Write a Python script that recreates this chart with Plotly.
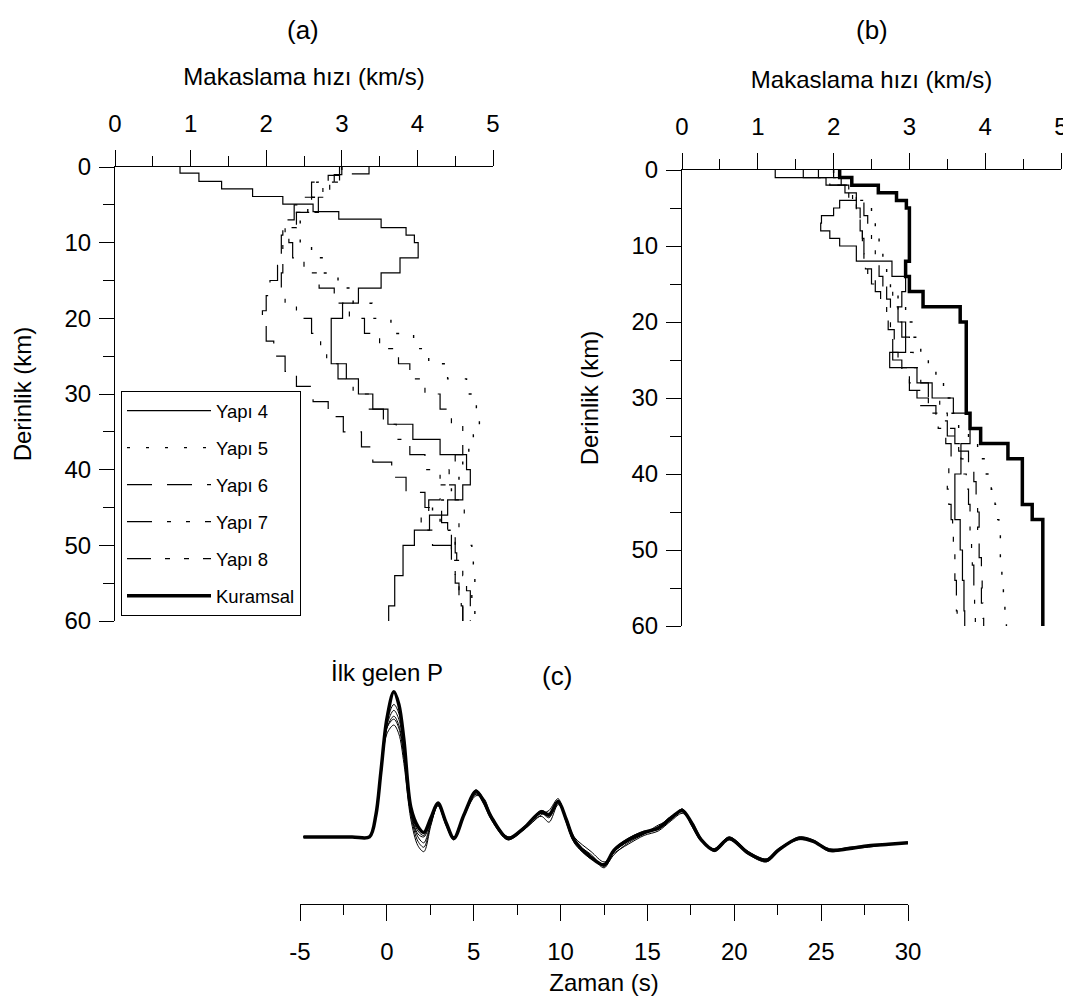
import plotly.graph_objects as go

FONT = "Liberation Sans, Arial, sans-serif"
# the page body has an 8 px default margin; the figure fills the rest of the 1071x1008 window
OFF = 8
W, H = 1071 - OFF, 1008 - OFF

# ---------------- data: panel (a) velocity profiles (depth top of layer, shear velocity)
a_y4_depth = [0, 0.8, 1.9, 2.9, 3.9, 4.9, 5.9, 6.9, 8, 9, 10, 12, 14, 16, 18, 20, 26, 28, 30, 32, 34, 36, 38, 40, 42, 44, 46, 48, 50, 54, 58, 60]
a_y4_vel = [0.86, 1.11, 1.41, 1.82, 2.22, 2.62, 2.96, 3.52, 3.85, 3.96, 4.01, 3.77, 3.52, 3.22, 3.01, 2.86, 3.06, 3.22, 3.41, 3.61, 3.94, 4.30, 4.65, 4.70, 4.60, 4.40, 4.16, 3.96, 3.81, 3.70, 3.62, 3.62]

a_y5_depth = [0, 2, 4, 6, 8, 10, 12, 14, 16, 18, 20, 22, 24, 26, 28, 30, 32, 34, 36, 38, 40, 42, 44, 46, 48, 50, 52, 54, 56, 58, 60]
a_y5_vel = [3.0, 2.67, 2.55, 2.45, 2.45, 2.6, 2.75, 2.95, 3.15, 3.4, 3.65, 3.95, 4.15, 4.4, 4.65, 4.78, 4.82, 4.74, 4.68, 4.6, 4.55, 4.45, 4.2, 4.3, 4.5, 4.72, 4.74, 4.76, 4.72, 4.76, 4.76]

a_y6_depth = [0, 1.1, 2, 4, 5, 7, 9, 11, 13, 15, 17, 19, 21, 23, 25, 27, 29, 31, 33, 35, 37, 39, 41, 43, 45, 47, 49, 51, 53, 55, 57, 59, 60]
a_y6_vel = [2.97, 2.82, 2.6, 2.45, 2.37, 2.22, 2.2, 2.2, 2.15, 2.05, 2.0, 1.95, 2.0, 2.1, 2.25, 2.4, 2.62, 2.82, 3.02, 3.26, 3.41, 3.66, 3.85, 4.1, 4.32, 4.4, 4.5, 4.52, 4.5, 4.55, 4.6, 4.6, 4.6]

a_y7_depth = [0, 1, 2, 4, 6, 8, 10, 12, 14, 16, 18, 20, 22, 24, 26, 28, 30, 32, 34, 36, 38, 40, 42, 44, 46, 48, 50, 52, 54, 56, 58, 60]
a_y7_vel = [3.0, 2.9, 2.75, 2.6, 2.4, 2.25, 2.22, 2.22, 2.2, 2.25, 2.4, 2.6, 2.72, 2.8, 2.95, 3.15, 3.35, 3.55, 3.72, 3.9, 4.1, 4.3, 4.5, 4.62, 4.55, 4.45, 4.45, 4.5, 4.55, 4.58, 4.6, 4.6]

a_y8_depth = [0, 0.9, 2, 4, 6, 8, 10, 12, 14, 16, 18, 20, 22, 24, 26, 28, 30, 32, 34, 36, 38, 40, 42, 44, 46, 48, 50, 52, 54, 56, 58, 60]
a_y8_vel = [3.36, 2.97, 2.84, 2.69, 2.4, 2.3, 2.35, 2.5, 2.7, 2.9, 3.1, 3.3, 3.5, 3.75, 3.9, 4.1, 4.3, 4.45, 4.6, 4.6, 4.5, 4.42, 4.3, 4.15, 4.05, 4.2, 4.45, 4.6, 4.65, 4.7, 4.7, 4.7]

# ---------------- data: panel (b) velocity profiles
b_y4_depth = [0, 1, 2, 3, 4, 5, 6, 7, 8, 9, 10, 12, 14, 16, 18, 20, 22, 24, 26, 28, 30, 32, 36, 40, 46, 50, 54, 58, 60]
b_y4_vel = [1.23, 1.9, 2.15, 2.3, 2.08, 2.0, 1.84, 1.83, 1.95, 2.08, 2.3, 2.77, 2.95, 2.9, 2.85, 2.9, 2.95, 2.74, 3.1, 3.3, 3.58, 3.8, 3.68, 3.6, 3.67, 3.7, 3.72, 3.73, 3.73]

b_y5_depth = [0, 2, 4, 6, 8, 10, 12, 14, 16, 18, 20, 22, 24, 26, 28, 30, 32, 34, 36, 38, 40, 42, 44, 46, 48, 50, 52, 54, 56, 58, 60]
b_y5_vel = [2.0, 2.35, 2.5, 2.55, 2.6, 2.65, 2.7, 2.75, 2.85, 2.95, 3.05, 3.15, 3.25, 3.35, 3.45, 3.55, 3.65, 3.78, 3.9, 4.0, 4.08, 4.13, 4.15, 4.18, 4.2, 4.2, 4.22, 4.24, 4.26, 4.28, 4.28]

b_y6_depth = [0, 1, 2, 3, 5, 7, 9, 11, 13, 15, 17, 19, 21, 23, 25, 27, 29, 31, 33, 35, 37, 39, 41, 43, 45, 47, 49, 51, 53, 55, 57, 59, 60]
b_y6_vel = [1.6, 1.95, 2.2, 2.3, 2.35, 2.38, 2.4, 2.42, 2.5, 2.7, 2.75, 2.72, 2.8, 2.78, 2.9, 3.0, 3.15, 3.35, 3.5, 3.65, 3.78, 3.85, 3.88, 3.9, 3.92, 3.9, 3.92, 3.95, 3.96, 3.95, 3.97, 3.98, 3.98]

b_y7_depth = [0, 1, 2, 4, 6, 8, 10, 12, 14, 16, 18, 20, 22, 24, 26, 28, 30, 32, 34, 36, 38, 40, 42, 44, 46, 48, 50, 52, 54, 56, 58, 60]
b_y7_vel = [1.8, 2.05, 2.25, 2.4, 2.45, 2.5, 2.55, 2.6, 2.65, 2.78, 2.85, 2.95, 3.0, 3.05, 3.15, 3.25, 3.4, 3.5, 3.6, 3.68, 3.72, 3.75, 3.78, 3.8, 3.8, 3.82, 3.83, 3.85, 3.85, 3.86, 3.87, 3.87]

b_y8_depth = [0, 1, 2, 4, 6, 8, 10, 12, 14, 16, 18, 20, 22, 24, 26, 28, 30, 32, 34, 36, 38, 40, 42, 44, 46, 48, 50, 52, 54, 56, 58, 60]
b_y8_vel = [2.0, 2.1, 2.2, 2.3, 2.35, 2.38, 2.4, 2.45, 2.55, 2.62, 2.7, 2.75, 2.78, 2.85, 3.0, 3.1, 3.25, 3.38, 3.48, 3.55, 3.52, 3.5, 3.52, 3.55, 3.57, 3.58, 3.6, 3.6, 3.62, 3.62, 3.63, 3.63]

b_kur_depth = [0, 1, 2, 3, 4, 5, 12, 14, 16, 18, 20, 32, 34, 36, 38, 44, 46, 60]
b_kur_vel = [2.08, 2.24, 2.59, 2.83, 2.96, 3.0, 2.95, 3.0, 3.18, 3.67, 3.75, 3.8, 3.94, 4.3, 4.49, 4.62, 4.76, 4.76]

# ---------------- data: panel (c) waveforms (time s, normalised amplitude)
c_time = [-4.8, -2.0, -1.0, -0.63, -0.35, 0.0, 0.4, 0.69, 0.98, 1.38,
          1.79, 2.13, 2.54, 2.94, 3.4, 3.86, 4.44, 5.13, 5.59, 5.99,
          6.97, 7.89, 8.88, 9.34, 9.86, 10.32, 10.78, 11.76, 12.51, 13.08,
          13.89, 14.81, 15.62, 16.37, 17.0, 17.52, 18.1, 18.85, 19.71, 20.81,
          21.84, 22.54, 23.69, 24.55, 25.48, 26.57, 27.72, 28.88, 30.0]
c_kur = [0, 0, 0, 0.15, 0.435, 0.80, 0.986, 0.90, 0.66, 0.20,
         0.07, 0.03, 0.13, 0.23, 0.10, -0.01, 0.15, 0.31, 0.24, 0.14,
         -0.01, 0.06, 0.17, 0.15, 0.24, 0.12, -0.02, -0.14, -0.19, -0.09,
         -0.02, 0.03, 0.06, 0.13, 0.18, 0.10, -0.02, -0.09, -0.01, -0.11,
         -0.16, -0.09, -0.01, -0.03, -0.09, -0.08, -0.06, -0.05, -0.04]
c_y4 = [0, 0, 0, 0.13, 0.40, 0.70, 0.76, 0.70, 0.50, 0.12,
        -0.06, -0.10, 0.08, 0.22, 0.08, -0.02, 0.14, 0.28, 0.26, 0.15,
        0.00, 0.05, 0.15, 0.18, 0.26, 0.10, -0.03, -0.12, -0.20, -0.12,
        -0.04, 0.02, 0.08, 0.12, 0.19, 0.08, -0.03, -0.08, 0.00, -0.10,
        -0.15, -0.08, -0.01, -0.03, -0.08, -0.08, -0.06, -0.05, -0.04]
c_y5 = [0, 0, 0, 0.14, 0.42, 0.74, 0.82, 0.76, 0.56, 0.16,
        0.00, -0.04, 0.10, 0.21, 0.09, 0.00, 0.16, 0.30, 0.22, 0.12,
        -0.02, 0.07, 0.14, 0.10, 0.22, 0.13, 0.00, -0.10, -0.17, -0.11,
        -0.05, 0.01, 0.04, 0.11, 0.16, 0.11, -0.01, -0.10, -0.02, -0.12,
        -0.17, -0.10, 0.00, -0.02, -0.09, -0.08, -0.07, -0.05, -0.04]
c_y6 = [0, 0, 0, 0.14, 0.42, 0.76, 0.86, 0.80, 0.60, 0.18,
        0.02, 0.00, 0.11, 0.22, 0.09, -0.02, 0.14, 0.32, 0.25, 0.13,
        -0.02, 0.05, 0.16, 0.14, 0.25, 0.11, -0.04, -0.15, -0.18, -0.08,
        -0.01, 0.04, 0.05, 0.12, 0.19, 0.09, -0.03, -0.08, 0.00, -0.10,
        -0.16, -0.09, -0.02, -0.03, -0.09, -0.07, -0.06, -0.05, -0.04]
c_y7 = [0, 0, 0, 0.15, 0.43, 0.78, 0.90, 0.84, 0.62, 0.19,
        0.04, 0.01, 0.12, 0.23, 0.10, -0.01, 0.15, 0.30, 0.23, 0.14,
        0.00, 0.06, 0.18, 0.16, 0.23, 0.12, -0.02, -0.13, -0.21, -0.10,
        -0.03, 0.02, 0.07, 0.14, 0.17, 0.10, -0.02, -0.09, -0.01, -0.11,
        -0.15, -0.09, -0.01, -0.03, -0.10, -0.08, -0.06, -0.05, -0.04]
c_y8 = [0, 0, 0, 0.14, 0.41, 0.74, 0.80, 0.74, 0.54, 0.15,
        -0.03, -0.07, 0.09, 0.22, 0.10, 0.00, 0.15, 0.29, 0.24, 0.14,
        -0.01, 0.06, 0.16, 0.13, 0.24, 0.12, -0.02, -0.13, -0.19, -0.10,
        -0.03, 0.03, 0.06, 0.13, 0.18, 0.10, -0.02, -0.09, -0.01, -0.11,
        -0.16, -0.09, -0.01, -0.03, -0.09, -0.08, -0.06, -0.05, -0.04]

time_tick_values = [-5, 0, 5, 10, 15, 20, 25, 30]
time_tick_labels = ["-5", "0", "5", "10", "15", "20", "25", "30"]

series_names = ["Yapı 4", "Yapı 5", "Yapı 6", "Yapı 7", "Yapı 8", "Kuramsal"]

# ---------------- styles
styles = {
    "Yapı 4": dict(color="black", width=1.2, dash="solid"),
    "Yapı 5": dict(color="black", width=1.4, dash="3px,16px"),
    "Yapı 6": dict(color="black", width=1.2, dash="25px,15px"),
    "Yapı 7": dict(color="black", width=1.2, dash="25px,15px,4px,15px,4px,15px"),
    "Yapı 8": dict(color="black", width=1.2, dash="24px,14px,5px,14px,5px,14px"),
    "Kuramsal": dict(color="black", width=3.5, dash="solid"),
}

fig = go.Figure()

panel_a = [("Yapı 4", a_y4_vel, a_y4_depth), ("Yapı 5", a_y5_vel, a_y5_depth),
           ("Yapı 6", a_y6_vel, a_y6_depth), ("Yapı 7", a_y7_vel, a_y7_depth),
           ("Yapı 8", a_y8_vel, a_y8_depth)]
for name, v, d in panel_a:
    fig.add_trace(go.Scatter(x=v, y=d, mode="lines", line=dict(shape="vh", **styles[name]),
                             name=name, legendgroup=name, showlegend=True,
                             xaxis="x", yaxis="y"))

panel_b = [("Yapı 4", b_y4_vel, b_y4_depth), ("Yapı 5", b_y5_vel, b_y5_depth),
           ("Yapı 6", b_y6_vel, b_y6_depth), ("Yapı 7", b_y7_vel, b_y7_depth),
           ("Yapı 8", b_y8_vel, b_y8_depth), ("Kuramsal", b_kur_vel, b_kur_depth)]
for name, v, d in panel_b:
    fig.add_trace(go.Scatter(x=v, y=d, mode="lines", line=dict(shape="vh", **styles[name]),
                             name=name, legendgroup=name, showlegend=(name == "Kuramsal"),
                             xaxis="x2", yaxis="y2"))

panel_c = [("Yapı 4", c_y4), ("Yapı 5", c_y5), ("Yapı 6", c_y6), ("Yapı 7", c_y7),
           ("Yapı 8", c_y8), ("Kuramsal", c_kur)]
for name, amp in panel_c:
    st = dict(styles[name])
    if name != "Kuramsal":
        st["dash"] = "solid"
        st["width"] = 1.0
    fig.add_trace(go.Scatter(x=c_time, y=amp, mode="lines",
                             line=dict(shape="spline", smoothing=0.9, **st),
                             name=name, legendgroup=name, showlegend=False,
                             xaxis="x3", yaxis="y3"))


def px_x(p):
    return (p - OFF) / W


def px_y(p):
    return 1 - (p - OFF) / H


tickfont = dict(family=FONT, size=24, color="black")
titlefont = dict(family=FONT, size=24, color="black")

common_x = dict(showline=True, linecolor="black", linewidth=1, ticks="outside",
                ticklen=16, tickwidth=1, tickcolor="black", showgrid=False,
                zeroline=False, tickfont=tickfont, automargin=False)
common_y = dict(showline=True, linecolor="black", linewidth=1, ticks="outside",
                ticklen=15, tickwidth=1, tickcolor="black", showgrid=False,
                zeroline=False, tickfont=tickfont, automargin=False)

fig.update_layout(
    width=W, height=H,
    margin=dict(l=0, r=0, t=0, b=0, autoexpand=False),
    paper_bgcolor="white", plot_bgcolor="white",
    font=dict(family=FONT, color="black"),
    xaxis=dict(domain=[px_x(115), px_x(493)], range=[0, 5], side="top", anchor="y",
               dtick=1, minor=dict(dtick=0.5, ticks="outside", ticklen=10, tickcolor="black"),
               title=dict(text="Makaslama hızı (km/s)", font=titlefont, standoff=18),
               ticklabelstandoff=8, **common_x),
    yaxis=dict(domain=[px_y(621), px_y(167)], range=[60, 0], anchor="x",
               dtick=10, minor=dict(dtick=5, ticks="outside", ticklen=11, tickcolor="black"),
               title=dict(text="Derinlik (km)", font=titlefont, standoff=26),
               ticklabelstandoff=3, **common_y),
    xaxis2=dict(domain=[px_x(682), px_x(1061)], range=[0, 5], side="top", anchor="y2",
                dtick=1, minor=dict(dtick=0.5, ticks="outside", ticklen=10, tickcolor="black"),
                title=dict(text="Makaslama hızı (km/s)", font=titlefont, standoff=18),
                ticklabelstandoff=8, **common_x),
    yaxis2=dict(domain=[px_y(626), px_y(170)], range=[60, 0], anchor="x2",
                dtick=10, minor=dict(dtick=5, ticks="outside", ticklen=11, tickcolor="black"),
                title=dict(text="Derinlik (km)", font=titlefont, standoff=26),
                ticklabelstandoff=3, **common_y),
    xaxis3=dict(domain=[px_x(300), px_x(908)], range=[-5, 30], side="bottom", anchor="y3",
                tickmode="array", tickvals=time_tick_values, ticktext=time_tick_labels,
                minor=dict(dtick=2.5, tick0=-5, ticks="outside", ticklen=10, tickcolor="black"),
                title=dict(text="Zaman (s)", font=titlefont, standoff=10),
                ticklabelstandoff=10, **common_x),
    yaxis3=dict(domain=[px_y(904), px_y(675)], range=[-0.4558, 1.1], anchor="x3",
                visible=False, automargin=False),
    legend=dict(x=px_x(121), y=px_y(391), xanchor="left", yanchor="top",
                bordercolor="black", borderwidth=1, bgcolor="white",
                font=dict(family=FONT, size=18.5, color="black"),
                tracegroupgap=10, itemwidth=84, traceorder="grouped",
                entrywidth=100, entrywidthmode="pixels"),
    showlegend=True,
    annotations=[
        dict(text="(a)", x=px_x(303), y=px_y(30), xref="paper", yref="paper",
             xanchor="center", yanchor="middle",
             showarrow=False, font=dict(family=FONT, size=26, color="black")),
        dict(text="(b)", x=px_x(872), y=px_y(30), xref="paper", yref="paper",
             xanchor="center", yanchor="middle",
             showarrow=False, font=dict(family=FONT, size=26, color="black")),
        dict(text="(c)", x=px_x(557), y=px_y(676), xref="paper", yref="paper",
             xanchor="center", yanchor="middle",
             showarrow=False, font=dict(family=FONT, size=26, color="black")),
        dict(text="İlk gelen P", x=px_x(387), y=px_y(672), xref="paper", yref="paper",
             xanchor="center", yanchor="middle",
             showarrow=False, font=dict(family=FONT, size=24, color="black")),
    ],
)

fig.write_html("out.html")
